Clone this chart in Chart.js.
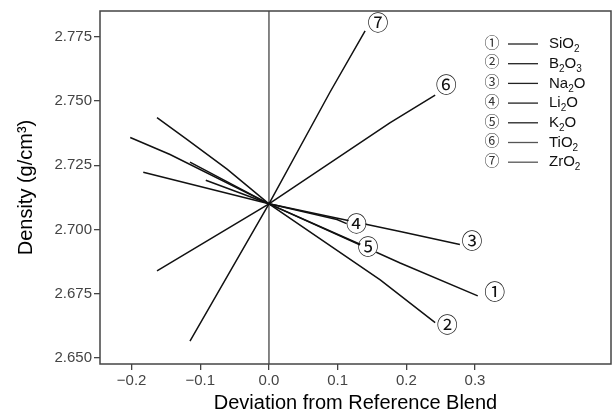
<!DOCTYPE html>
<html>
<head>
<meta charset="utf-8">
<script src="https://cdn.jsdelivr.net/npm/chart.js@4/dist/chart.umd.min.js"></script>
<style>
  html, body { margin: 0; padding: 0; background: #fff; }
  #wrap { width: 615px; height: 418px; }
</style>
</head>
<body>
<div id="wrap"><canvas id="c" width="615" height="418"></canvas></div>
<script>
// --- data ---
var names = ["SiO_2", "B_2O_3", "Na_2O", "Li_2O", "K_2O", "TiO_2", "ZrO_2"];
var marks = ["\u2460", "\u2461", "\u2462", "\u2463", "\u2464", "\u2465", "\u2466"];

var sio2X = [-0.202, -0.144, 0, 0.191, 0.304];
var sio2Y = [2.7358, 2.7292, 2.710, 2.6870, 2.6742];
var b2o3X = [-0.163, -0.119, -0.061, 0, 0.162, 0.242];
var b2o3Y = [2.7435, 2.7350, 2.7235, 2.710, 2.6804, 2.6638];
var na2oX = [-0.183, 0, 0.191, 0.278];
var na2oY = [2.7223, 2.710, 2.6992, 2.6942];
var li2oX = [-0.092, 0, 0.099, 0.113];
var li2oY = [2.7192, 2.710, 2.7039, 2.7023];
var k2oX = [-0.115, 0, 0.140];
var k2oY = [2.7262, 2.710, 2.6934];
var tio2X = [-0.163, 0, 0.176, 0.242];
var tio2Y = [2.6839, 2.710, 2.7415, 2.7523];
var zro2X = [-0.115, 0, 0.089, 0.140];
var zro2Y = [2.6566, 2.710, 2.7535, 2.7773];

var xTicks = [-0.2, -0.1, 0.0, 0.1, 0.2, 0.3];
var yTicks = [2.650, 2.675, 2.700, 2.725, 2.750, 2.775];

var allX = [sio2X, b2o3X, na2oX, li2oX, k2oX, tio2X, zro2X];
var allY = [sio2Y, b2o3Y, na2oY, li2oY, k2oY, tio2Y, zro2Y];

// pixel offsets of the circled labels from each line's end
var labelOff = [[17, -3], [12, 3], [12, -2], [10, 1], [3, 2], [11, -9], [13, -7]];

function pts(xs, ys) { return xs.map(function (x, i) { return { x: x, y: ys[i] }; }); }
function minus(v, d) { var s = Math.abs(v).toFixed(d); return (v < -1e-9 ? "\u2212" : "") + s; }

var datasets = names.map(function (n, i) {
  return { label: n, data: pts(allX[i], allY[i]), borderColor: "#111", borderWidth: 1.5,
    pointRadius: 0, tension: 0, fill: false };
});

var CIRC = "'Noto Sans CJK JP', 'Noto Sans CJK KR', 'DejaVu Sans', sans-serif";
var SANS = "'Liberation Sans', Arial, sans-serif";

// draws text like "B_2O_3" with subscripts
function subText(ctx, str, x, y, size) {
  var parts = str.split(/(_\d)/);
  parts.forEach(function (p) {
    if (!p) return;
    if (p.charAt(0) === "_") {
      ctx.font = Math.round(size * 0.68) + "px " + SANS;
      ctx.fillText(p.slice(1), x, y + size * 0.36);
      x += ctx.measureText(p.slice(1)).width;
    } else {
      ctx.font = size + "px " + SANS;
      ctx.fillText(p, x, y);
      x += ctx.measureText(p).width;
    }
  });
}

var extras = {
  id: "extras",
  beforeDatasetsDraw: function (c) {
    var ctx = c.ctx, a = c.chartArea, xs = c.scales.x;
    var px = xs.getPixelForValue(0);
    ctx.save();
    ctx.strokeStyle = "#444"; ctx.lineWidth = 1.3;
    ctx.beginPath(); ctx.moveTo(px, a.top); ctx.lineTo(px, a.bottom); ctx.stroke();
    ctx.restore();
  },
  afterDraw: function (c) {
    var ctx = c.ctx, a = c.chartArea, xs = c.scales.x, ys = c.scales.y;
    ctx.save();
    // frame
    ctx.strokeStyle = "#444"; ctx.lineWidth = 1.5;
    ctx.strokeRect(a.left, a.top, a.right - a.left, a.bottom - a.top);
    // circled end labels
    ctx.textAlign = "center"; ctx.textBaseline = "middle";
    names.forEach(function (n, i) {
      var xa = allX[i], ya = allY[i];
      var ex = xs.getPixelForValue(xa[xa.length - 1]) + labelOff[i][0];
      var ey = ys.getPixelForValue(ya[ya.length - 1]) + labelOff[i][1];
      ctx.fillStyle = "#fff";
      ctx.beginPath(); ctx.arc(ex, ey, 9, 0, Math.PI * 2); ctx.fill();
      ctx.fillStyle = "#111";
      ctx.font = "21px " + CIRC;
      ctx.fillText(marks[i], ex, ey - 2);
    });
    // legend
    var lx = a.right - 119, ly = a.top + 33;
    names.forEach(function (n, i) {
      var y = ly + i * 19.7;
      ctx.textAlign = "center"; ctx.textBaseline = "middle";
      ctx.fillStyle = "#333"; ctx.font = "15px " + CIRC;
      ctx.fillText(marks[i], lx, y - 2);
      ctx.strokeStyle = i >= 5 ? "#555" : "#222"; ctx.lineWidth = 1.3;
      ctx.beginPath(); ctx.moveTo(lx + 16, y); ctx.lineTo(lx + 46, y); ctx.stroke();
      ctx.textAlign = "left"; ctx.fillStyle = "#111";
      subText(ctx, n, lx + 57, y, 15);
    });
    ctx.restore();
  }
};

new Chart(document.getElementById("c"), {
  type: "line",
  data: { datasets: datasets },
  plugins: [extras],
  options: {
    responsive: false, animation: false,
    layout: { padding: { top: 8, right: 4, left: 0, bottom: 0 } },
    plugins: { legend: { display: false }, tooltip: { enabled: false } },
    scales: {
      x: {
        type: "linear", min: -0.246, max: 0.498,
        afterBuildTicks: function (s) { s.ticks = xTicks.map(function (v) { return { value: v }; }); },
        afterFit: function (s) { s.height = 54; },
        grid: { drawOnChartArea: false, drawTicks: true, tickLength: 6, tickColor: "#444", lineWidth: 1.3 },
        border: { display: false },
        ticks: { color: "#444", font: { size: 15, family: SANS }, padding: 2, maxRotation: 0,
          callback: function (v) { return minus(v, 1); } },
        title: { display: true, text: "Deviation from Reference Blend", color: "#000",
          font: { size: 20, family: SANS }, padding: { top: 0, bottom: 3 } }
      },
      y: {
        min: 2.6477, max: 2.785,
        afterBuildTicks: function (s) { s.ticks = yTicks.map(function (v) { return { value: v }; }); },
        afterFit: function (s) { s.width = 100; },
        grid: { drawOnChartArea: false, drawTicks: true, tickLength: 6, tickColor: "#444", lineWidth: 1.3 },
        border: { display: false },
        ticks: { color: "#444", font: { size: 15, family: SANS }, padding: 2,
          callback: function (v) { return v.toFixed(3); } },
        title: { display: true, text: "Density (g/cm\u00b3)", color: "#000",
          font: { size: 20, family: SANS }, padding: { top: 14, bottom: 0 } }
      }
    }
  }
});
</script>
</body>
</html>
